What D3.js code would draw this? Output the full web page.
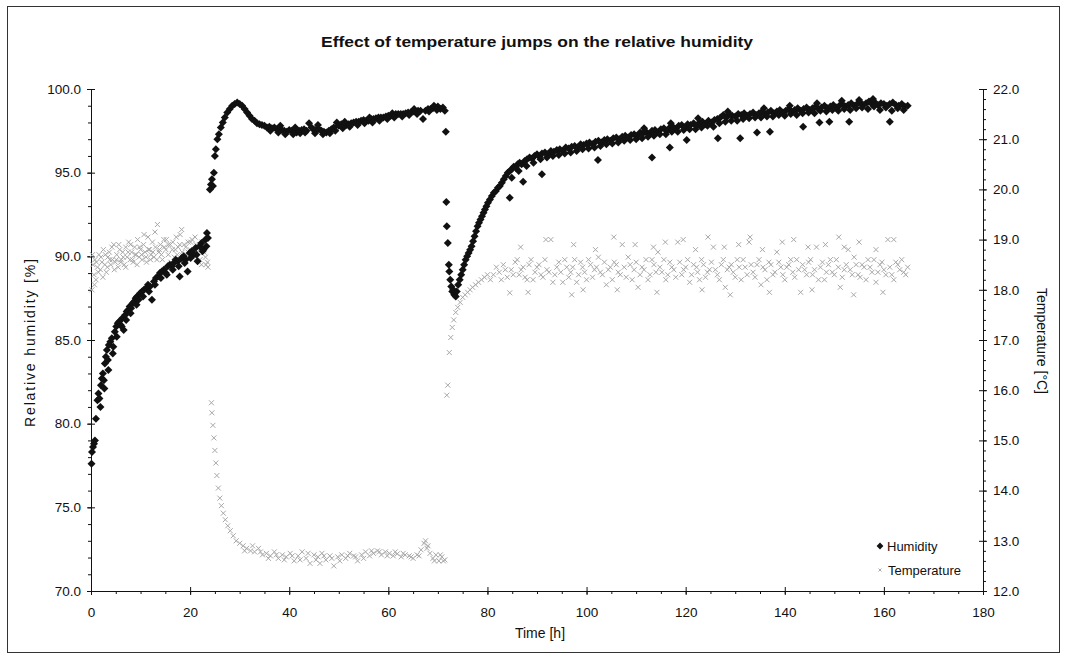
<!DOCTYPE html>
<html>
<head>
<meta charset="utf-8">
<script src="https://cdn.jsdelivr.net/npm/d3@7"></script>
<style>
  body { margin: 0; background: #fff; }
  svg { display: block; font-family: "Liberation Sans", Arial, sans-serif; }
  .axis text { font-size: 13.5px; fill: #111; }
  .axis path, .axis line { stroke: #111; stroke-width: 1; }
  .title { font-size: 15px; font-weight: bold; fill: #111; }
  .axis-title { font-size: 14px; fill: #111; }
  .legend text { font-size: 13px; fill: #111; }
</style>
</head>
<body>
<svg id="chart"></svg>
<script>
// ---- data: [time h, value] ----
const timeTicks = [0, 20, 40, 60, 80, 100, 120, 140, 160, 180];
const humidityTicks = [70, 75, 80, 85, 90, 95, 100];
const temperatureTicks = [12, 13, 14, 15, 16, 17, 18, 19, 20, 21, 22];

// humidity [%], first period (warm)
const humidityPhase1 = [
  [0.1,77.6],[0.2,78.3],[0.4,78.6],[0.6,78.8],[0.8,79.0],[1.0,80.3],[1.3,81.4],[1.5,81.8],[1.7,81.5],
  [2.0,82.3],[2.2,82.7],[2.4,83.0],[2.6,82.6],[2.8,83.6],[3.0,84.0],[3.2,84.4],[3.4,83.8],[3.6,84.7],
  [3.9,84.9],[4.2,85.1],[4.5,84.6],[4.8,85.5],[5.1,85.8],[5.4,86.0],[5.7,86.1],[6.0,85.9],[6.3,86.3],
  [6.6,85.6],[6.9,86.5],[7.2,86.7],[7.5,86.8],[7.8,87.0],[8.1,86.9],[8.4,87.2],[8.7,87.3],[9.0,87.5],
  [9.3,87.6],[9.6,87.4],[9.9,87.8],[10.3,87.9],[10.7,88.0],[11.1,88.1],[11.5,88.3],[11.9,88.2],[12.3,87.4],
  [12.7,88.5],[13.1,88.7],[13.5,88.8],[13.9,89.0],[14.3,89.1],[14.7,89.2],[15.1,89.0],[15.5,89.4],[15.9,89.5],
  [16.3,89.4],[16.7,89.6],[17.1,89.8],[17.5,89.7],[17.9,88.8],[18.3,89.9],[18.7,90.0],[19.1,89.8],[19.5,89.1],
  [19.9,90.2],[20.3,90.3],[20.7,90.1],[21.1,90.5],[21.5,89.7],[21.9,90.6],[22.3,90.8],[22.7,90.4],[23.1,91.0],
  [23.4,91.4],[23.6,91.1]
];
const humidityPhase1b = [
  [1.9,81.0],[2.7,82.1],[3.5,83.2],[4.4,84.2],[5.2,85.2],[6.2,85.8],[7.1,86.2],[8.0,86.6],[9.2,87.1],
  [10.5,87.6],[11.7,87.9],[12.9,88.3],[14.1,88.7],[15.3,88.9],[16.5,89.2],[17.7,89.4],[18.9,89.6],[20.1,89.9],
  [21.3,90.1],[22.5,90.3],[23.3,90.6]
];

// humidity [%], second period (cold)
const humidityPhase2 = [
  [24.0,94.0],[24.2,94.3],[24.4,94.6],[24.6,94.2],[24.8,95.0],[25.0,96.0],[25.2,96.4],[25.5,97.0],[25.8,97.3],
  [26.2,97.7],[26.6,98.0],[27.0,98.3],[27.5,98.6],[28.0,98.8],[28.5,99.0],[29.0,99.1],[29.5,99.2],[30.0,99.1],
  [30.5,99.0],[31.0,98.8],[31.5,98.6],[32.0,98.4],[32.5,98.2],[33.0,98.1],[33.5,97.95],[34.0,97.9],[34.5,97.85],
  [35.0,97.8],[35.5,97.7],[36.0,97.75],[36.5,97.65],[37.0,97.7],[37.5,97.6],[38.0,97.6],[38.5,97.55],[39.0,97.5],
  [39.5,97.45],[40.0,97.55],[40.5,97.5],[41.0,97.45],[41.5,97.4],[42.0,97.5],[42.5,97.55],[43.0,97.6],[43.5,97.5],
  [44.0,97.95],[44.5,97.7],[45.0,97.55],[45.5,97.6],[46.0,97.6],[46.5,97.5],[47.0,97.45],[47.5,97.4],[48.0,97.5],
  [48.5,97.6],[49.0,97.7],[49.6,98.0],[50.0,97.8],[50.5,97.9],[51.0,97.85],[51.5,97.85],[52.0,97.9],[52.5,97.95],
  [53.0,98.0],[53.5,98.05],[54.0,98.05],[54.5,98.1],[55.0,98.15],[55.5,98.1],[56.0,98.1],[56.5,98.2],[57.0,98.2],
  [57.5,98.25],[58.0,98.3],[58.5,98.3],[59.0,98.3],[59.5,98.35],[60.0,98.4],[60.5,98.4],[61.0,98.45],[61.5,98.5],
  [62.0,98.5],[62.5,98.5],[63.0,98.5],[63.5,98.55],[64.0,98.6],[64.5,98.6],[65.0,98.65],[65.5,98.65],[66.0,98.7],
  [66.5,98.7],[67.0,98.2],[67.5,98.7],[68.0,98.8],[68.5,98.8],[69.0,98.85],[69.5,98.9],[70.0,98.95],[70.5,98.8],
  [71.0,98.9],[71.4,98.7]
];
const humidityPhase2b = [
  [36.2,97.5],[37.8,97.4],[38.2,97.8],[39.2,97.3],[40.8,97.3],[41.2,97.7],[42.2,97.35],[43.2,97.4],[45.2,97.35],
  [45.8,97.85],[46.8,97.3],[48.2,97.35],[49.3,97.5],[50.8,97.65],[51.2,98.05],[52.2,97.75],[53.8,97.85],[55.2,97.95],
  [56.2,98.3],[56.8,98.0],[58.2,98.1],[59.8,98.2],[60.8,98.55],[61.2,98.3],[62.8,98.35],[64.2,98.45],[65.2,98.8],
  [65.8,98.5],[68.2,98.65],[69.2,99.0],[69.8,98.75]
];

// humidity [%], third period (warm again)
const humidityPhase3 = [
  [71.6,97.45],[71.7,93.25],[71.8,91.8],[72.0,90.8],[72.2,89.5],[72.3,89.1],[72.5,88.6],[72.7,88.2],[72.9,87.9],
  [73.1,88.0],[73.3,87.7],[73.6,87.6],[73.8,87.9],[74.1,88.3],[74.4,88.6],[74.7,88.9],[75.0,89.2],[75.3,89.5],
  [75.6,89.8],[75.9,90.0],[76.2,90.2],[76.5,90.4],[76.8,90.6],[77.1,90.9],[77.4,91.2],[77.7,91.5],[78.0,91.8],
  [78.3,92.0],[78.6,92.2],[78.9,92.4],[79.2,92.6],[79.5,92.8],[79.8,93.0],[80.1,93.2],[80.5,93.4],[80.9,93.6],
  [81.3,93.8],[81.7,93.9],[82.1,94.1],[82.5,94.2],[82.9,94.4],[83.3,94.6],[83.7,94.8],[84.1,95.0],[84.5,93.5],
  [84.5,95.1],[84.9,95.2],[85.3,95.35],[85.7,95.3],[86.1,95.5],[86.5,95.6],[86.9,95.5],[87.2,94.45],[87.5,95.7],
  [88.0,95.8],[88.5,95.9],[89.0,95.85],[89.5,96.0],[90.0,96.1],[90.5,95.95],[91.0,94.9],[91.0,96.15],[91.6,96.2],
  [92.2,96.1],[92.8,96.3],[93.4,96.25],[94.0,96.35],[94.6,96.4],[95.2,96.3],[95.8,96.5],[96.4,96.45],[97.0,96.55],
  [97.6,96.6],[98.2,96.5],[98.8,96.7],[99.4,96.65],[100.0,96.75],[100.6,96.8],[101.2,96.7],[101.8,96.85],[102.3,95.75],
  [102.4,96.9],[103.0,96.8],[103.6,96.95],[104.2,97.0],[104.8,96.9],[105.4,97.05],[106.0,97.1],[106.6,97.0],[107.2,97.15],
  [107.8,97.2],[108.4,97.1],[109.0,97.25],[109.6,97.3],[110.2,97.2],[110.8,97.4],[111.4,97.35],[112.0,97.45],[112.6,97.3],
  [113.2,95.9],[113.2,97.5],[113.8,97.55],[114.4,97.4],[115.0,97.6],[115.6,97.65],[116.2,97.5],[116.8,96.5],[116.8,97.7],
  [117.4,97.75],[118.0,97.6],[118.6,97.8],[119.2,97.85],[119.8,97.7],[120.2,96.95],[120.4,97.9],[121.0,97.85],[121.6,97.95],
  [122.2,97.8],[122.8,98.0],[123.4,98.05],[124.0,97.9],[124.6,98.1],[125.2,98.0],[125.8,98.15],[126.4,98.2],[126.5,97.05],
  [127.0,98.3],[127.6,98.45],[128.2,98.3],[128.8,98.5],[129.4,98.4],[130.0,98.35],[130.6,98.5],[131.0,97.05],[131.2,98.45],
  [131.8,98.55],[132.4,98.4],[133.0,98.5],[133.6,98.6],[134.2,98.45],[134.4,97.4],[134.8,98.55],[135.4,98.65],[136.0,98.5],
  [136.6,98.6],[137.0,97.45],[137.2,98.7],[137.8,98.55],[138.4,98.65],[139.0,98.75],[139.6,98.6],[140.2,98.7],[140.8,98.8],
  [141.4,98.65],[142.0,98.75],[142.6,98.85],[143.2,98.7],[143.7,97.75],[143.8,98.8],[144.4,98.9],[145.0,98.75],[145.6,98.85],
  [146.2,98.95],[146.8,98.8],[147.0,98.0],[147.4,98.9],[148.0,99.0],[148.6,98.85],[149.0,98.05],[149.2,98.95],[149.8,99.05],
  [150.4,98.9],[151.0,99.0],[151.6,99.1],[152.2,98.95],[152.8,99.05],[153.0,98.05],[153.4,99.15],[154.0,99.0],[154.6,99.1],
  [155.2,99.2],[155.8,99.05],[156.4,99.15],[157.0,99.25],[157.6,99.1],[158.2,99.2],[158.8,99.05],[159.4,99.15],[160.0,99.1],
  [160.6,99.0],[161.2,98.05],[161.2,99.1],[161.8,99.2],[162.4,99.05],[163.0,99.0],[163.6,99.1],[164.2,98.95],[164.8,99.0]
];
const humidityPhase3b = [
  [84.9,94.7],[86.3,95.1],[87.9,95.4],[89.3,95.6],[90.7,95.8],[92.0,95.9],[93.2,96.0],[94.4,96.05],[95.6,96.15],
  [96.8,96.2],[98.0,96.3],[99.2,96.4],[100.4,96.45],[101.6,96.5],[102.8,96.6],[104.0,96.7],[105.2,96.75],[106.4,96.8],
  [107.6,96.9],[108.8,96.95],[110.0,97.0],[111.2,97.05],[111.6,97.65],[112.4,97.15],[113.6,97.2],[114.8,97.3],[116.0,97.3],
  [117.0,97.95],[117.2,97.45],[118.4,97.45],[119.6,97.55],[120.8,97.6],[122.0,97.6],[122.5,98.25],[123.2,97.7],[124.4,97.8],
  [125.6,97.75],[126.8,97.95],[128.0,98.05],[128.5,98.65],[129.2,98.1],[130.4,98.1],[131.6,98.2],[132.8,98.25],[134.0,98.3],
  [135.2,98.3],[135.8,98.85],[136.4,98.35],[137.6,98.35],[138.8,98.45],[140.0,98.4],[141.0,99.0],[141.2,98.5],[142.4,98.45],
  [143.6,98.55],[144.8,98.6],[146.0,98.55],[146.5,99.15],[147.2,98.7],[148.4,98.65],[149.6,98.75],[150.8,98.7],[151.5,99.3],
  [152.0,98.8],[153.2,98.75],[154.4,98.85],[155.0,99.35],[155.6,98.9],[156.8,98.8],[157.8,99.4],[158.0,98.95],[159.2,98.75],
  [160.4,98.9],[161.6,98.7],[162.8,98.85],[164.0,98.75]
];

// temperature [°C]
const temperaturePhase1 = [
  [0.2,18.0],[0.4,18.5],[0.6,18.3],[0.8,18.6],[1.0,18.2],[1.3,18.45],[1.6,18.7],[1.9,18.4],[2.2,18.55],
  [2.5,18.8],[2.8,18.5],[3.1,18.35],[3.4,18.65],[3.7,18.75],[4.0,18.5],[4.3,18.6],[4.6,18.9],[4.9,18.55],
  [5.2,18.7],[5.5,18.45],[5.8,18.8],[6.1,18.6],[6.4,18.75],[6.7,18.5],[7.0,18.85],[7.3,18.65],[7.6,18.95],
  [7.9,18.6],[8.2,18.75],[8.5,18.55],[8.8,18.85],[9.1,18.7],[9.4,19.0],[9.7,18.65],[10.0,18.8],[10.3,18.6],
  [10.6,18.9],[10.9,18.75],[11.2,18.55],[11.5,19.05],[11.8,18.8],[12.1,18.7],[12.4,18.95],[12.7,18.65],[13.0,18.85],
  [13.4,19.3],[13.7,18.75],[14.0,18.9],[14.4,18.6],[14.8,18.85],[15.2,19.0],[15.6,18.7],[16.0,18.9],[16.4,18.8],
  [16.8,18.65],[17.2,19.05],[17.6,18.85],[18.0,19.1],[18.4,18.75],[18.8,18.9],[19.2,18.7],[19.6,18.95],[20.0,18.8],
  [20.4,19.0],[20.8,18.7],[21.2,18.9],[21.6,18.85],[22.0,18.6],[22.4,18.95],[22.8,18.75],[23.2,18.5],[23.6,18.45]
];
const temperaturePhase1b = [
  [0.3,18.7],[0.7,18.1],[1.1,18.55],[1.5,18.35],[2.0,18.65],[2.4,18.25],[2.9,18.7],[3.3,18.45],[3.8,18.6],
  [4.2,18.85],[4.7,18.4],[5.1,18.6],[5.6,18.9],[6.0,18.55],[6.5,18.65],[7.0,18.45],[7.5,18.75],[8.0,18.9],
  [8.4,18.6],[8.9,18.7],[9.3,18.5],[9.8,18.85],[10.2,18.7],[10.7,19.1],[11.1,18.65],[11.6,18.8],[12.0,18.6],
  [12.5,18.75],[12.9,19.15],[13.3,18.6],[13.8,18.8],[14.2,18.7],[14.7,19.0],[15.1,18.8],[15.6,18.9],[16.1,18.55],
  [16.5,18.95],[17.0,18.8],[17.4,18.7],[17.9,18.9],[18.3,19.2],[18.7,18.6],[19.1,18.85],[19.6,18.75],[20.1,18.95],
  [20.5,18.65],[21.0,19.05],[21.4,18.75],[21.9,18.9],[22.3,18.5],[22.7,18.8],[23.1,18.65],[23.5,18.55]
];

const temperaturePhase2 = [
  [24.3,15.75],[24.4,15.55],[24.6,15.3],[24.8,15.05],[25.0,14.8],[25.2,14.55],[25.4,14.3],[25.7,14.05],[26.0,13.85],
  [26.3,13.7],[26.7,13.55],[27.1,13.42],[27.6,13.3],[28.1,13.2],[28.7,13.1],[29.3,13.0],[30.0,12.95],[30.7,12.9],
  [31.4,12.85],[32.2,12.8],[33.0,12.78],[33.8,12.85],[34.6,12.72],[35.4,12.75],[36.2,12.7],[37.0,12.78],[37.8,12.65],
  [38.6,12.72],[39.4,12.68],[40.2,12.75],[41.0,12.6],[41.8,12.7],[42.6,12.78],[43.4,12.65],[44.2,12.55],[45.0,12.72],
  [45.8,12.68],[46.6,12.75],[47.4,12.62],[48.2,12.7],[49.0,12.5],[49.8,12.68],[50.6,12.72],[51.4,12.65],[52.2,12.75],
  [53.0,12.7],[53.8,12.6],[54.6,12.72],[55.4,12.78],[56.2,12.7],[57.0,12.75],[57.8,12.8],[58.6,12.72],[59.4,12.78],
  [60.2,12.75],[61.0,12.7],[61.8,12.74],[62.6,12.68],[63.4,12.72],[64.2,12.7],[65.0,12.65],[65.8,12.72],[66.6,12.82],
  [67.2,12.95],[67.8,12.85],[68.4,12.75],[69.0,12.65],[69.6,12.72],[70.2,12.6],[70.8,12.68],[71.4,12.62]
];
const temperaturePhase2b = [
  [31.0,12.8],[32.6,12.9],[34.2,12.78],[35.8,12.65],[37.4,12.72],[39.0,12.62],[40.6,12.7],[42.2,12.62],[43.8,12.75],
  [45.4,12.62],[46.2,12.55],[47.0,12.7],[48.6,12.65],[50.2,12.6],[51.8,12.7],[53.4,12.68],[55.0,12.65],[56.6,12.8],
  [58.2,12.78],[59.8,12.7],[61.4,12.78],[63.0,12.75],[64.6,12.68],[66.2,12.7],[67.5,13.0],[68.0,12.9],[69.3,12.6],
  [70.5,12.72],[71.1,12.6]
];

const temperaturePhase3 = [
  [71.8,15.9],[72.0,16.1],[72.3,16.75],[72.6,17.05],[72.9,17.25],[73.2,17.4],[73.6,17.55],[74.0,17.65],[74.5,17.75],
  [75.0,17.85],[75.5,17.9],[76.0,17.95],[76.5,18.0],[77.0,18.05],[77.6,18.1],[78.2,18.15],[78.8,18.2],[79.4,18.25],
  [80.0,18.3],[80.6,18.2],[81.2,18.3],[81.8,18.45],[82.4,18.35],[83.2,18.5],[84.0,18.25],[84.5,17.94],[84.8,18.4],
  [85.6,18.55],[86.4,18.3],[87.2,18.45],[88.0,18.2],[88.8,18.6],[89.6,18.35],[90.4,18.5],[91.2,18.25],[92.0,18.4],
  [92.8,19.0],[93.6,18.3],[94.4,18.55],[95.2,18.15],[96.0,18.45],[96.8,18.35],[97.6,18.6],[98.4,18.3],[99.2,18.45],
  [100.0,18.2],[100.8,18.5],[101.6,18.4],[102.4,18.65],[103.2,18.3],[104.0,18.1],[104.8,18.45],[105.6,18.55],[106.4,18.35],
  [107.2,18.9],[108.0,18.25],[108.8,18.5],[109.6,18.4],[110.4,18.05],[111.2,18.45],[112.0,18.6],[112.8,18.3],[113.6,18.5],
  [114.4,18.75],[115.2,18.35],[116.0,18.2],[116.8,18.55],[117.6,18.4],[118.4,18.95],[119.2,18.3],[120.0,18.45],[120.8,18.15],
  [121.6,18.5],[122.4,18.35],[123.2,18.6],[124.0,18.25],[124.8,18.4],[125.6,18.85],[126.4,18.3],[127.2,18.5],[128.0,18.05],
  [128.8,18.45],[129.6,18.35],[130.4,18.6],[131.2,18.2],[132.0,18.45],[132.8,18.95],[133.6,18.35],[134.4,18.5],[135.2,18.1],
  [136.0,18.4],[136.8,18.55],[137.6,18.3],[138.4,18.75],[139.2,18.45],[140.0,18.2],[140.8,18.5],[141.6,18.35],[142.4,18.6],
  [143.2,17.95],[144.0,18.4],[144.8,18.55],[145.6,18.3],[146.4,18.85],[147.2,18.45],[148.0,18.2],[148.8,18.5],[149.6,18.35],
  [150.4,18.6],[151.2,18.05],[152.0,18.4],[152.8,18.8],[153.6,18.3],[154.4,18.5],[155.2,18.25],[156.0,18.45],[156.8,18.6],
  [157.6,18.35],[158.4,18.15],[159.2,18.5],[160.0,18.4],[160.8,19.0],[161.6,18.3],[162.4,18.55],[163.2,18.4],[164.0,18.35],
  [164.8,18.45]
];
const temperaturePhase3b = [
  [82.8,18.2],[83.6,18.4],[85.2,18.3],[86.0,18.6],[86.7,18.85],[86.8,18.4],[87.6,18.25],[88.2,17.95],[88.4,18.5],
  [89.2,18.2],[90.0,18.45],[90.8,18.3],[91.6,18.6],[91.8,19.0],[92.4,18.35],[93.2,18.15],[94.0,18.45],[94.8,18.35],
  [95.6,18.6],[96.4,18.25],[97.0,17.9],[97.2,18.45],[97.4,18.9],[98.0,18.15],[98.8,18.55],[99.3,18.0],[99.6,18.35],
  [100.4,18.6],[101.2,18.25],[101.8,18.8],[102.0,18.45],[102.8,18.35],[103.6,18.55],[104.4,18.4],[105.2,18.2],[105.5,19.05],
  [106.0,18.5],[106.2,18.0],[106.8,18.3],[107.6,18.45],[108.4,18.65],[109.2,18.2],[109.8,18.9],[110.0,18.55],[110.8,18.3],
  [111.6,18.4],[112.4,18.2],[113.2,18.6],[113.5,18.85],[114.0,18.35],[114.2,17.95],[114.8,18.45],[115.6,18.6],[115.9,18.95],
  [116.4,18.3],[117.2,18.45],[118.0,18.25],[118.8,18.55],[119.5,19.0],[119.6,18.4],[120.4,18.6],[121.2,18.3],[122.0,18.8],
  [122.2,18.45],[122.8,18.2],[123.3,18.0],[123.6,18.5],[124.4,18.35],[124.5,19.05],[125.2,18.55],[126.0,18.4],[126.8,18.2],
  [127.6,18.6],[127.8,18.85],[128.4,18.4],[129.0,17.9],[129.2,18.5],[130.0,18.25],[130.7,18.9],[130.8,18.45],[131.6,18.6],
  [132.4,18.3],[133.0,19.05],[133.2,18.5],[134.0,18.25],[134.8,18.6],[135.5,18.8],[135.6,18.45],[136.4,18.2],[136.9,17.95],
  [137.2,18.5],[138.0,18.35],[138.8,18.55],[139.5,18.95],[139.6,18.3],[140.4,18.45],[141.2,18.6],[141.8,19.0],[142.0,18.25],
  [142.8,18.4],[143.6,18.5],[144.4,18.3],[144.7,18.85],[145.2,18.6],[145.5,18.0],[146.0,18.4],[146.8,18.2],[147.6,18.55],
  [148.2,18.9],[148.4,18.35],[149.2,18.6],[150.0,18.3],[150.8,18.45],[150.9,19.05],[151.6,18.25],[152.0,18.85],[152.4,18.5],
  [153.2,18.4],[153.9,17.9],[154.0,18.65],[154.8,18.3],[155.0,18.95],[155.6,18.5],[156.4,18.2],[157.2,18.45],[158.0,18.6],
  [158.4,18.8],[158.8,18.35],[159.6,18.55],[159.8,17.95],[160.4,18.3],[161.2,18.45],[162.0,19.0],[162.0,18.2],[162.8,18.5],
  [163.6,18.6],[164.4,18.3]
];

class DualAxisScatter {

  constructor(_config, _data) {
    this.config = {
      parentElement: _config.parentElement,
      containerWidth: _config.containerWidth || 1065,
      containerHeight: _config.containerHeight || 661,
      margin: _config.margin || {top: 89, right: 82, bottom: 70, left: 91}
    }
    this.data = _data;
    this.initVis();
  }

  initVis() {
    let vis = this;

    vis.width = vis.config.containerWidth - vis.config.margin.left - vis.config.margin.right;
    vis.height = vis.config.containerHeight - vis.config.margin.top - vis.config.margin.bottom;

    // scales
    vis.xScale = d3.scaleLinear().domain([0, 180]).range([0, vis.width]);
    vis.yScale = d3.scaleLinear().domain([70, 100]).range([vis.height, 0]);
    vis.y2Scale = d3.scaleLinear().domain([12, 22]).range([vis.height, 0]);

    vis.svg = d3.select(vis.config.parentElement)
        .attr('width', vis.config.containerWidth)
        .attr('height', vis.config.containerHeight);

    // outer frame
    vis.svg.append('rect')
        .attr('x', 7.5).attr('y', 6.5)
        .attr('width', 1052).attr('height', 646)
        .attr('fill', 'none')
        .attr('stroke', '#333');

    vis.chart = vis.svg.append('g')
        .attr('transform', `translate(${vis.config.margin.left},${vis.config.margin.top})`);

    vis.svg.append('text')
        .attr('class', 'title')
        .attr('x', 537).attr('y', 47)
        .attr('text-anchor', 'middle')
        .attr('textLength', 432)
        .attr('lengthAdjust', 'spacingAndGlyphs')
        .text('Effect of temperature jumps on the relative humidity');

    vis.svg.append('text')
        .attr('class', 'axis-title')
        .attr('text-anchor', 'middle')
        .attr('transform', 'translate(35,343) rotate(-90)')
        .attr('textLength', 168)
        .text('Relative humidity  [%]');

    vis.svg.append('text')
        .attr('class', 'axis-title')
        .attr('text-anchor', 'middle')
        .attr('transform', 'translate(1037,341) rotate(90)')
        .text('Temperature  [°C]');

    vis.svg.append('text')
        .attr('class', 'axis-title')
        .attr('text-anchor', 'middle')
        .attr('x', 540).attr('y', 638)
        .text('Time  [h]');
  }

  renderVis() {
    let vis = this;
    const fmt = d3.format('.1f');

    // left axis: minor ticks, major ticks crossing the line
    const yG = vis.chart.append('g').attr('class', 'axis');
    yG.append('g').call(d3.axisLeft(vis.yScale).tickValues(d3.range(70, 100.1, 1)).tickSize(3).tickSizeOuter(0).tickFormat(''));
    yG.append('g').call(d3.axisRight(vis.yScale).tickValues(humidityTicks).tickSize(4).tickSizeOuter(0).tickFormat(''));
    yG.append('g').call(d3.axisLeft(vis.yScale).tickValues(humidityTicks).tickSize(4).tickSizeOuter(0).tickPadding(6).tickFormat(fmt));

    // right axis
    const y2G = vis.chart.append('g').attr('class', 'axis')
        .attr('transform', `translate(${vis.width},0)`);
    y2G.append('g').call(d3.axisRight(vis.y2Scale).tickValues(d3.range(12, 22.01, 0.2)).tickSize(3).tickSizeOuter(0).tickFormat(''));
    y2G.append('g').call(d3.axisLeft(vis.y2Scale).tickValues(temperatureTicks).tickSize(4).tickSizeOuter(0).tickFormat(''));
    y2G.append('g').call(d3.axisRight(vis.y2Scale).tickValues(temperatureTicks).tickSize(4).tickSizeOuter(0).tickPadding(6).tickFormat(fmt));

    // bottom axis
    const xG = vis.chart.append('g').attr('class', 'axis')
        .attr('transform', `translate(0,${vis.height})`);
    xG.append('g').call(d3.axisBottom(vis.xScale).tickValues(d3.range(0, 181, 5)).tickSize(3).tickSizeOuter(0).tickFormat(''));
    xG.append('g').call(d3.axisTop(vis.xScale).tickValues(timeTicks).tickSize(4).tickSizeOuter(0).tickFormat(''));
    xG.append('g').call(d3.axisBottom(vis.xScale).tickValues(timeTicks).tickSize(4).tickSizeOuter(0).tickPadding(12).tickFormat(d3.format('d')));

    // temperature (gray crosses) drawn first
    const cross = 'M-2.5,-2.5L2.5,2.5M-2.5,2.5L2.5,-2.5';
    vis.chart.append('g').selectAll('path')
      .data(vis.data.temperature)
      .join('path')
        .attr('d', cross)
        .attr('transform', d => `translate(${vis.xScale(d[0])},${vis.y2Scale(d[1])})`)
        .attr('fill', 'none')
        .attr('stroke', '#a8a8a8')
        .attr('stroke-width', 1);

    // humidity (black diamonds)
    const diamond = 'M0,-4L4,0L0,4L-4,0Z';
    vis.chart.append('g').selectAll('path')
      .data(vis.data.humidity)
      .join('path')
        .attr('d', diamond)
        .attr('transform', d => `translate(${vis.xScale(d[0])},${vis.yScale(d[1])})`)
        .attr('fill', '#111');

    // legend
    const lg = vis.svg.append('g').attr('class', 'legend');
    lg.append('path').attr('d', diamond).attr('transform', 'translate(880,546) scale(0.85)').attr('fill', '#111');
    lg.append('text').attr('x', 887).attr('y', 551).text('Humidity');
    lg.append('path').attr('d', 'M-1.5,-1.5L1.5,1.5M-1.5,1.5L1.5,-1.5').attr('transform', 'translate(880,570)')
        .attr('stroke', '#a8a8a8').attr('fill', 'none');
    lg.append('text').attr('x', 888).attr('y', 575).text('Temperature');
  }
}

const chart = new DualAxisScatter({parentElement: '#chart'}, {
  humidity: [...humidityPhase1, ...humidityPhase1b, ...humidityPhase2, ...humidityPhase2b, ...humidityPhase3, ...humidityPhase3b],
  temperature: [...temperaturePhase1, ...temperaturePhase1b, ...temperaturePhase2, ...temperaturePhase2b, ...temperaturePhase3, ...temperaturePhase3b]
});
chart.renderVis();
</script>
</body>
</html>
